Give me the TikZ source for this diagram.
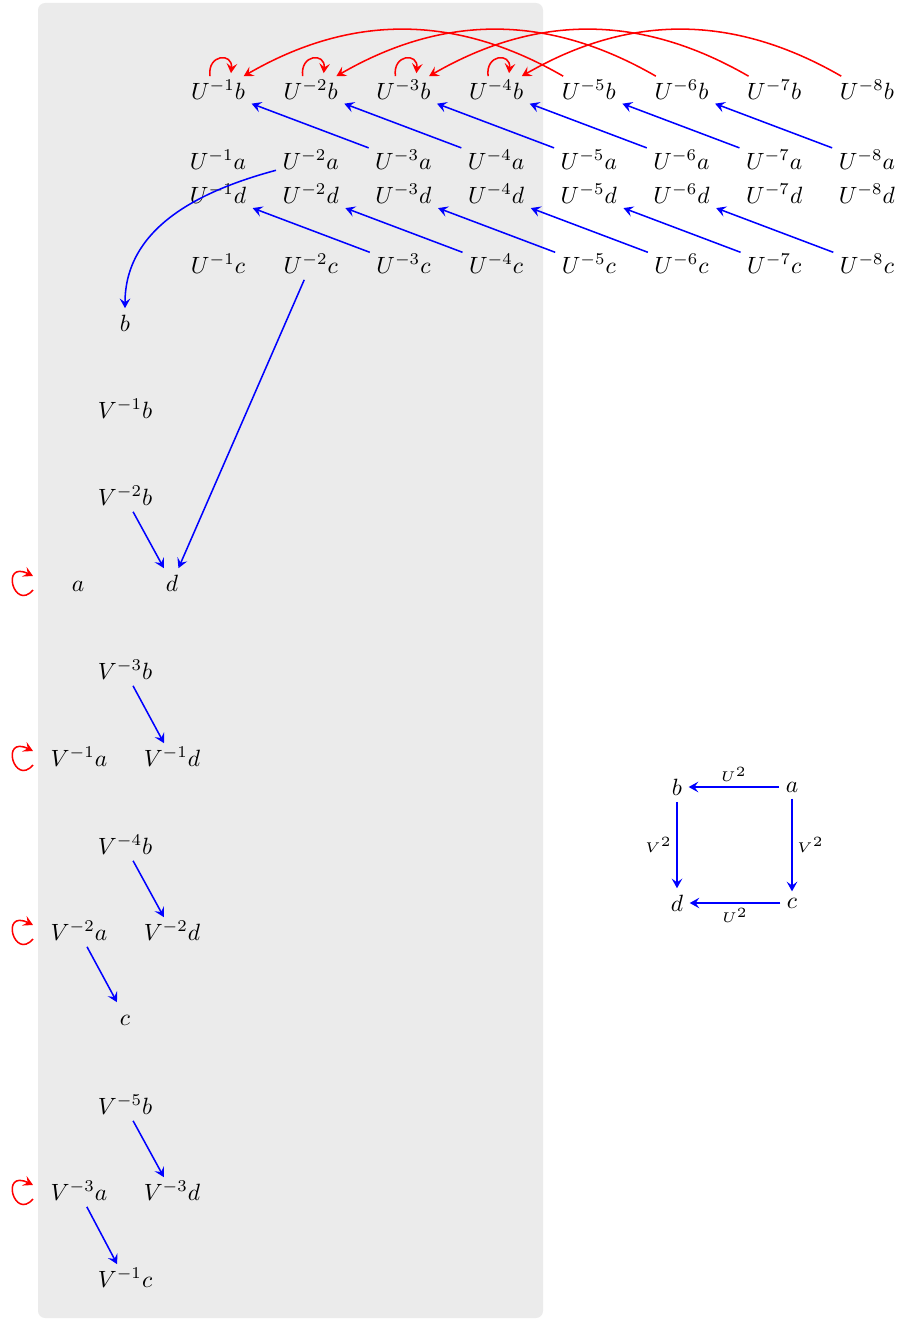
\documentclass[tikz,border=0pt]{standalone}
\usetikzlibrary{arrows.meta,calc}
\tikzset{
  lab/.style={inner sep=2.6pt, text height=7pt, text depth=0pt},
  sq/.style={inner sep=2.6pt},
  tip/.style={-{Stealth[length=4.1pt,width=4.5pt,inset=1.6pt]}},
  bluearr/.style={blue, line width=0.65pt, tip},
  redarr/.style={red, line width=0.65pt, tip},
  elab/.style={font=\tiny, scale=1.2, inner sep=1.5pt, text=black}
}
\begin{document}
\begin{tikzpicture}[x=0.425pt,y=-0.425pt]
\useasboundingbox (0,0) rectangle (899,1319);
\fill[black!8, rounded corners=3pt] (38,3) rectangle (543,1318);
% top grid
\foreach \k in {1,...,8}{
  \pgfmathsetmacro\xx{218+92.7*(\k-1)}
  \node[lab] (b\k) at (\xx,91) {$U^{-\k}b$};
  \node[lab] (a\k) at (\xx,161) {$U^{-\k}a$};
  \node[lab] (d\k) at (\xx,195) {$U^{-\k}d$};
  \node[lab] (c\k) at (\xx,265) {$U^{-\k}c$};
}
% left column
\node[lab] (bb) at (125,323) {$b$};
\node[lab] (V1b) at (125,410) {$V^{-1}b$};
\node[lab] (V2b) at (125,497) {$V^{-2}b$};
\node[lab] (aa) at (78,583) {$a$};
\node[lab] (dd) at (172,583) {$d$};
\node[lab] (V3b) at (125,671) {$V^{-3}b$};
\node[lab] (V1a) at (79,758) {$V^{-1}a$};
\node[lab] (V1d) at (172,758) {$V^{-1}d$};
\node[lab] (V4b) at (125,846) {$V^{-4}b$};
\node[lab] (V2a) at (79,932) {$V^{-2}a$};
\node[lab] (V2d) at (172,932) {$V^{-2}d$};
\node[lab] (cc) at (125,1017) {$c$};
\node[lab] (V5b) at (125,1106) {$V^{-5}b$};
\node[lab] (V3a) at (79,1192) {$V^{-3}a$};
\node[lab] (V3d) at (172,1192) {$V^{-3}d$};
\node[lab] (V1c) at (125,1279) {$V^{-1}c$};
\coordinate (L1) at (32,583);
\coordinate (L2) at (32,758);
\coordinate (L3) at (32,932);
\coordinate (L4) at (32,1192);
% square
\node[sq] (sb) at (677,787) {$b$};
\node[sq] (sa) at (792,787) {$a$};
\node[sq] (sd) at (677,903) {$d$};
\node[sq] (sc) at (792,903) {$c$};
\draw[bluearr] (sa) -- node[elab, above] {$U^2$} (sb);
\draw[bluearr] (sc) -- node[elab, below] {$U^2$} (sd);
\draw[bluearr] (sb) -- node[elab, left] {$V^2$} (sd);
\draw[bluearr] (sa) -- node[elab, right] {$V^2$} (sc);
% blue arrows top
\foreach \k [evaluate=\k as \j using int(\k+2)] in {1,...,6}{
  \draw[bluearr] (a\j) -- (b\k);
  \draw[bluearr] (c\j) -- (d\k);
}
\draw[bluearr] (a2) to[out=195,in=90] (bb);
\draw[bluearr] (c2) -- (dd);
\draw[bluearr] (V2b) -- (dd);
\draw[bluearr] (V3b) -- (V1d);
\draw[bluearr] (V4b) -- (V2d);
\draw[bluearr] (V2a) -- (cc);
\draw[bluearr] (V5b) -- (V3d);
\draw[bluearr] (V3a) -- (V1c);
% red arcs
\foreach \k [evaluate=\k as \j using int(\k+4)] in {1,...,4}{
  \draw[redarr] (b\j) to[bend right=30] (b\k);
  \draw[redarr] ($(b\k.north)+(-8,0)$) .. controls +(-3,-22) and +(2,-21) .. ($(b\k.north)+(13,-3)$);
}
% red left loops
\foreach \L in {L1,L2,L3,L4}{
  \draw[redarr] ($(\L)+(1,7)$) .. controls +(-19,22) and +(-33,-16) .. ($(\L)+(1,-7)$);
}
\end{tikzpicture}
\end{document}
